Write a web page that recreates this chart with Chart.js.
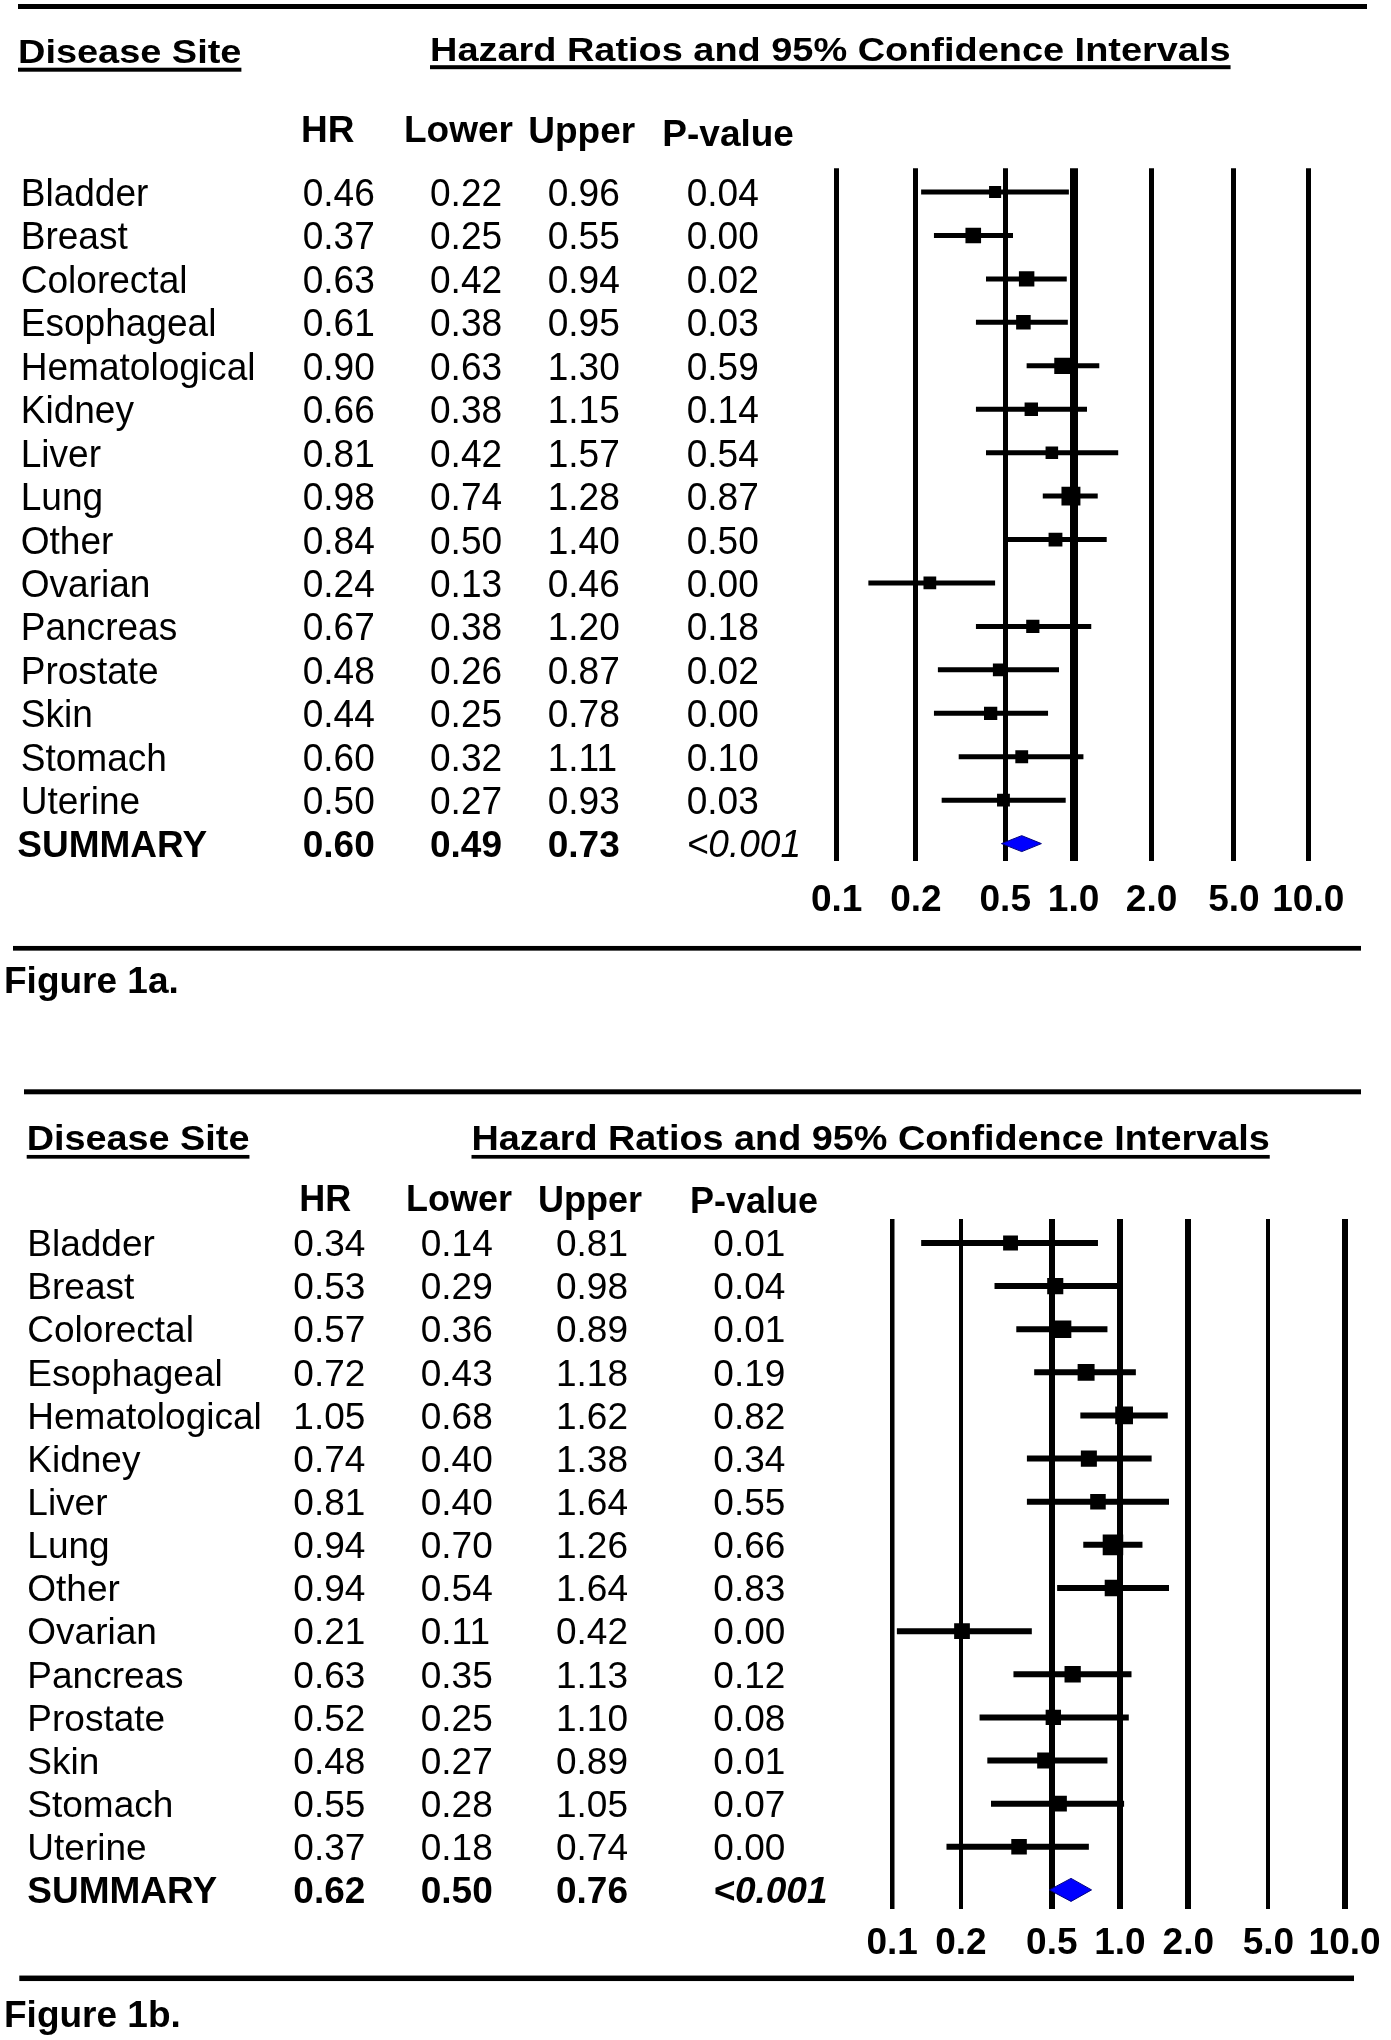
<!DOCTYPE html>
<html>
<head>
<meta charset="utf-8">
<title>Figure 1a / 1b</title>
<script src="https://cdn.jsdelivr.net/npm/chart.js@4.4.1/dist/chart.umd.min.js"></script>
<style>
  body { margin: 0; background: #fff; }
  canvas { position: absolute; left: 0; }
  #fig1a { top: 0; }
  #fig1b { top: 1040px; }
</style>
</head>
<body>
<canvas id="fig1a" width="1391" height="1040"></canvas>
<canvas id="fig1b" width="1391" height="1000"></canvas>
<script>
// table data
const sites = ['Bladder', 'Breast', 'Colorectal', 'Esophageal', 'Hematological', 'Kidney', 'Liver', 'Lung',
  'Other', 'Ovarian', 'Pancreas', 'Prostate', 'Skin', 'Stomach', 'Uterine'];

// figure 1a
const hrA    = [0.46, 0.37, 0.63, 0.61, 0.90, 0.66, 0.81, 0.98, 0.84, 0.24, 0.67, 0.48, 0.44, 0.60, 0.50];
const lowerA = [0.22, 0.25, 0.42, 0.38, 0.63, 0.38, 0.42, 0.74, 0.50, 0.13, 0.38, 0.26, 0.25, 0.32, 0.27];
const upperA = [0.96, 0.55, 0.94, 0.95, 1.30, 1.15, 1.57, 1.28, 1.40, 0.46, 1.20, 0.87, 0.78, 1.11, 0.93];
const pA     = ['0.04', '0.00', '0.02', '0.03', '0.59', '0.14', '0.54', '0.87', '0.50', '0.00', '0.18', '0.02', '0.00', '0.10', '0.03'];
const summaryA  = [0.60, 0.49, 0.73]; // HR, lower, upper
const summaryPA = '<0.001';

// figure 1b
const hrB    = [0.34, 0.53, 0.57, 0.72, 1.05, 0.74, 0.81, 0.94, 0.94, 0.21, 0.63, 0.52, 0.48, 0.55, 0.37];
const lowerB = [0.14, 0.29, 0.36, 0.43, 0.68, 0.40, 0.40, 0.70, 0.54, 0.11, 0.35, 0.25, 0.27, 0.28, 0.18];
const upperB = [0.81, 0.98, 0.89, 1.18, 1.62, 1.38, 1.64, 1.26, 1.64, 0.42, 1.13, 1.10, 0.89, 1.05, 0.74];
const pB     = ['0.01', '0.04', '0.01', '0.19', '0.82', '0.34', '0.55', '0.66', '0.83', '0.00', '0.12', '0.08', '0.01', '0.07', '0.00'];
const summaryB  = [0.62, 0.50, 0.76];
const summaryPB = '<0.001';

// axis labels, and where the original actually put its reference lines (hand drawn, not exact)
const tickLabels = ['0.1', '0.2', '0.5', '1.0', '2.0', '5.0', '10.0'];
const gridAtA = [0.0948, 0.209, 0.509, 1.006, 2.19, 4.98, 10.45];
const gridAtB = [0.105, 0.2076, 0.512, 1.007, 1.987, 4.4, 9.376];

const columnHeads = ['HR', 'Lower', 'Upper', 'P-value'];
const titleLeft = 'Disease Site';
const titleRight = 'Hazard Ratios and 95% Confidence Intervals';
const summaryLabel = 'SUMMARY';

const FONT = "'Liberation Sans', Arial, sans-serif";

// draw a text with optional horizontal squeeze, returns drawn width
function put(ctx, s, x, y, f) {
  const sx = f.sx || 1;
  ctx.save();
  ctx.font = (f.style || 'normal') + ' ' + (f.weight || 'normal') + ' ' + f.size + 'px ' + FONT;
  ctx.translate(x, y);
  ctx.scale(sx, 1);
  ctx.fillText(s, 0, 0);
  const w = ctx.measureText(s).width * sx;
  ctx.restore();
  return w;
}

// table text, titles and rules drawn next to the plot
const tablePlugin = {
  id: 'forestTable',
  afterDraw(chart, args, o) {
    const ctx = chart.ctx;
    const yScale = chart.scales.y;
    const L = o.look, d = o.data;
    ctx.save();
    ctx.fillStyle = '#000';
    ctx.textBaseline = 'alphabetic';

    [L.topRule, L.bottomRule].forEach(r => ctx.fillRect(r[0], r[2] - r[3] / 2, r[1] - r[0], r[3]));

    const tf = {weight: 'bold', size: L.title.size, sx: L.title.sx};
    [[titleLeft, L.disease], [titleRight, L.hazard]].forEach(([s, p]) => {
      const w = put(ctx, s, p[0], p[1], tf);
      ctx.fillRect(p[0], p[2] - L.ulW / 2, w, L.ulW);
    });

    columnHeads.forEach((s, i) => put(ctx, s, L.heads[i][0], L.heads[i][1], {weight: 'bold', size: L.head.size, sx: L.head.sx}));

    const bf = {size: L.body.size, sx: L.body.sx};
    d.sites.forEach((s, i) => {
      const y = yScale.getPixelForValue(i) + 0.358 * bf.size;
      put(ctx, s, L.cols[0], y, bf);
      put(ctx, d.hr[i].toFixed(2), L.cols[1], y, bf);
      put(ctx, d.lower[i].toFixed(2), L.cols[2], y, bf);
      put(ctx, d.upper[i].toFixed(2), L.cols[3], y, bf);
      put(ctx, d.p[i], L.cols[4], y, bf);
    });

    const n = d.sites.length;
    const sf = {weight: 'bold', size: L.sum.size};
    const ys = yScale.getPixelForValue(n) + 0.358 * sf.size;
    put(ctx, summaryLabel, L.sumX, ys, sf);
    d.summary.forEach((v, k) => put(ctx, v.toFixed(2), L.cols[k + 1], ys, sf));
    put(ctx, d.summaryP, L.cols[4], ys, L.sumP);

    put(ctx, L.figLabel[0], L.figLabel[1], L.figLabel[2], {weight: 'bold', size: 37});
    ctx.restore();
  }
};

function forest(id, d, look) {
  const n = d.sites.length;
  // confidence intervals as one broken line
  const ciPoints = [];
  d.sites.forEach((s, i) => {
    ciPoints.push({x: d.lower[i], y: i}, {x: d.upper[i], y: i}, {x: null, y: null});
  });
  const [sh, sl, su] = d.summary;
  const diamond = [
    {x: sl, y: n}, {x: sh, y: n - look.diamondH}, {x: su, y: n}, {x: sh, y: n + look.diamondH}, {x: sl, y: n}
  ];
  const grid = look.gridAt;

  return new Chart(document.getElementById(id), {
    type: 'scatter',
    data: {
      datasets: [
        {
          type: 'line',
          data: ciPoints,
          borderColor: '#000',
          borderWidth: look.ciWidth,
          borderCapStyle: 'butt',
          pointRadius: 0,
          spanGaps: false,
          tension: 0
        },
        {
          data: d.hr.map((v, i) => ({x: v, y: i})),
          pointStyle: 'rect',
          backgroundColor: '#000',
          borderWidth: 0,
          // bigger box for tighter interval
          pointRadius: c => (look.boxBase + look.boxGain / Math.log(d.upper[c.dataIndex] / d.lower[c.dataIndex])) / Math.SQRT2
        },
        {
          type: 'line',
          data: diamond,
          borderColor: '#000080',
          borderWidth: 1,
          backgroundColor: '#0000ff',
          fill: 'shape',
          pointRadius: 0,
          tension: 0
        }
      ]
    },
    options: {
      responsive: false,
      animation: false,
      events: [],
      layout: {padding: {left: look.left, right: 1391 - look.right, top: look.top, bottom: look.padBottom}},
      plugins: {
        legend: {display: false},
        tooltip: {enabled: false},
        forestTable: {look: look, data: d}
      },
      scales: {
        x: {
          type: 'logarithmic',
          min: grid[0],
          max: grid[grid.length - 1],
          afterBuildTicks: s => { s.ticks = grid.map(v => ({value: v})); },
          afterFit: s => { s.paddingLeft = 0; s.paddingRight = 0; s.height = look.axisH; },
          grid: {color: '#000', lineWidth: c => look.gridW[c.index], drawTicks: false},
          border: {display: false},
          ticks: {
            autoSkip: false,
            maxRotation: 0,
            padding: look.tickPad,
            color: '#000',
            font: {family: FONT, size: 37, weight: 'bold'},
            callback: (v, i) => tickLabels[i]
          }
        },
        y: {type: 'linear', reverse: true, min: look.yMin, max: look.yMax, display: false}
      }
    },
    plugins: [tablePlugin]
  });
}

forest('fig1a',
  {sites: sites, hr: hrA, lower: lowerA, upper: upperA, p: pA, summary: summaryA, summaryP: summaryPA},
  {
    gridAt: gridAtA,
    left: 836.7, right: 1308.3, top: 168.3, padBottom: 79, axisH: 100,
    yMin: -0.546, yMax: 15.40, tickPad: 17.5,
    gridW: [5, 5, 5, 8, 5, 5, 5], ciWidth: 5, boxBase: 8, boxGain: 6, diamondH: 0.184,
    topRule: [18, 1367, 6.5, 5], bottomRule: [13, 1361, 948.3, 4.7],
    title: {size: 34, sx: 1.115}, disease: [18, 63.3, 69.7], hazard: [430, 60.7, 67.2], ulW: 4,
    head: {size: 37, sx: 1}, heads: [[301, 141.7], [404, 141.7], [528.3, 143.3], [662.3, 145.7]],
    body: {size: 39, sx: 0.95}, cols: [20.7, 302.7, 430, 547.7, 686.7],
    sum: {size: 37}, sumX: 17.3, sumP: {style: 'italic', size: 39, sx: 0.95},
    figLabel: ['Figure 1a.', 4, 992.7]
  });

forest('fig1b',
  {sites: sites, hr: hrB, lower: lowerB, upper: upperB, p: pB, summary: summaryB, summaryP: summaryPB},
  {
    gridAt: gridAtB,
    left: 892.2, right: 1344.6, top: 179, padBottom: 50.7, axisH: 80,
    yMin: -0.556, yMax: 15.45, tickPad: 12.5,
    gridW: [4.5, 4, 6, 6, 6, 4, 6], ciWidth: 6, boxBase: 12, boxGain: 5, diamondH: 0.267,
    topRule: [24, 1361, 51.8, 5], bottomRule: [19.3, 1354, 938.3, 5.5],
    title: {size: 35, sx: 1.08}, disease: [26.7, 110, 116.8], hazard: [471.5, 110, 116.8], ulW: 3.7,
    head: {size: 36, sx: 1}, heads: [[299.3, 170.7], [406, 170.7], [538, 172], [690, 173]],
    body: {size: 37, sx: 1}, cols: [27.3, 293.3, 420.7, 556, 713.3],
    sum: {size: 37}, sumX: 27.3, sumP: {style: 'italic', weight: 'bold', size: 37},
    figLabel: ['Figure 1b.', 4, 986.7]
  });
</script>
</body>
</html>
